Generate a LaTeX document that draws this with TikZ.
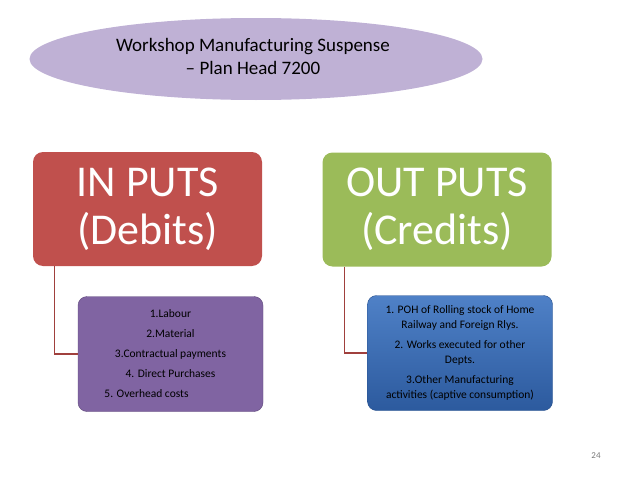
\documentclass[tikz,border=0pt]{standalone}
\usepackage{fontspec}
\setmainfont{Carlito}
\usetikzlibrary{positioning,shapes.geometric}
\definecolor{TitleLilac}{RGB}{191,177,213}
\definecolor{InRed}{RGB}{192,80,77}
\definecolor{OutGreen}{RGB}{155,187,89}
\definecolor{ListPurple}{RGB}{128,100,162}
\definecolor{ListPurpleEdge}{RGB}{94,72,122}
\definecolor{BlueTop}{RGB}{79,129,199}
\definecolor{BlueBottom}{RGB}{44,90,158}
\definecolor{BlueEdge}{RGB}{40,80,140}
\definecolor{BranchRed}{RGB}{160,64,61}
\definecolor{PageGray}{RGB}{120,120,120}
\tikzset{
  titlenode/.style={ellipse,fill=TitleLilac,minimum width=453pt,minimum height=82pt,inner sep=0pt,align=center,font=\fontsize{19}{23}\selectfont},
  headnode/.style={rounded corners=10pt,text=white,minimum width=229pt,minimum height=114pt,inner sep=0pt,align=center,font=\fontsize{44}{48}\selectfont},
  listnode/.style={rounded corners=9pt,minimum width=185pt,minimum height=115pt,inner sep=2pt,align=center,font=\fontsize{11.5}{15.5}\selectfont},
  branch/.style={draw=BranchRed,line width=1.2pt}
}
\begin{document}
\begin{tikzpicture}[x=1pt,y=-1pt]
\useasboundingbox (0,0) rectangle (638,479);

\node[titlenode] (title) at (256,59) {};
\node[font=\fontsize{19}{23}\selectfont, align=center] (titletext) at (253,56) {Workshop Manufacturing Suspense\\ -- Plan Head 7200};

\node[headnode, fill=InRed] (ins) at (147.5,209) {IN PUTS\\(Debits)};
\node[headnode, fill=OutGreen] (outs) at (437,209.5) {OUT PUTS\\(Credits)};

\node[listnode, fill=ListPurple, draw=ListPurpleEdge, font=\fontsize{11.5}{20}\selectfont] (inlist) at (170.5,354)
  {1.Labour\\2.Material\\3.Contractual payments\\4. Direct Purchases\\5. Overhead costs\hspace*{48pt}};
\node[listnode, top color=BlueTop, bottom color=BlueBottom, draw=BlueEdge] (outlist) at (460,353)
  {1. POH of Rolling stock of Home\\Railway and Foreign Rlys.\\[4pt]2. Works executed  for other\\Depts.\\[4pt]3.Other Manufacturing\\activities (captive consumption)};

\draw[branch] ([xshift=22pt]ins.south west) |- (inlist.west);
\draw[branch] ([xshift=22pt]outs.south west) |- (outlist.west);

\node[text=PageGray, font=\fontsize{9}{10}\selectfont] (page) at (596,456) {24};
\end{tikzpicture}
\end{document}
